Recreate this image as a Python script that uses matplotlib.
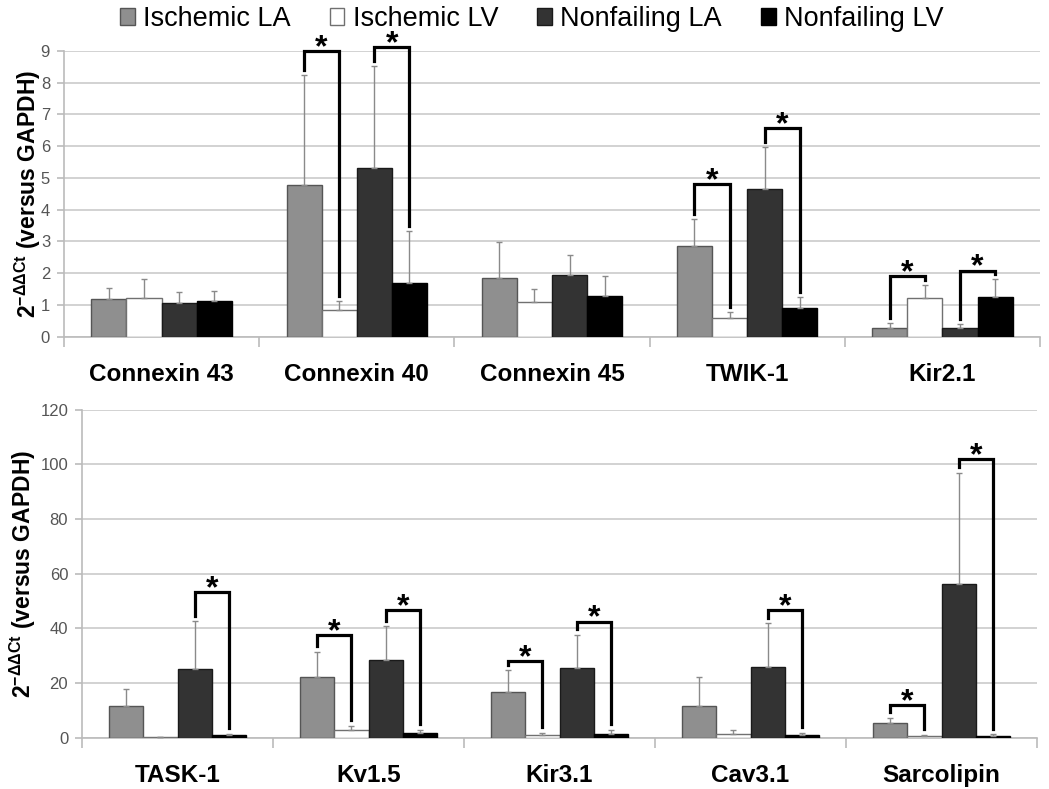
import numpy as np
import matplotlib
matplotlib.use("Agg")
import matplotlib.pyplot as plt
from matplotlib.patches import Patch

plt.rcParams['font.family'] = ['Liberation Sans', 'DejaVu Sans']
plt.rcParams['mathtext.fontset'] = 'custom'
plt.rcParams['mathtext.rm'] = 'Liberation Sans'
plt.rcParams['mathtext.bf'] = 'Liberation Sans:bold'

series = ['Ischemic LA', 'Ischemic LV', 'Nonfailing LA', 'Nonfailing LV']

# upper panel: gap junctions and K+ channels
genes_top = ['Connexin 43', 'Connexin 40', 'Connexin 45', 'TWIK-1', 'Kir2.1']
isch_la_top = [1.20, 4.78, 1.84, 2.87, 0.27]
isch_lv_top = [1.23, 0.85, 1.10, 0.60, 1.23]
nf_la_top = [1.07, 5.32, 1.94, 4.65, 0.26]
nf_lv_top = [1.12, 1.68, 1.29, 0.89, 1.24]
isch_la_top_sd = [0.32, 3.47, 1.13, 0.84, 0.17]
isch_lv_top_sd = [0.60, 0.28, 0.41, 0.18, 0.39]
nf_la_top_sd = [0.35, 3.20, 0.62, 1.32, 0.15]
nf_lv_top_sd = [0.33, 1.64, 0.62, 0.37, 0.57]
# significant pairs: (gene index, series a, series b, bracket height)
sig_top = [(1, 0, 1, 9.0), (1, 2, 3, 9.12), (3, 0, 1, 4.8),
           (3, 2, 3, 6.56), (4, 0, 1, 1.91), (4, 2, 3, 2.08)]

# lower panel
genes_bot = ['TASK-1', 'Kv1.5', 'Kir3.1', 'Cav3.1', 'Sarcolipin']
isch_la_bot = [11.5, 22.3, 16.8, 11.7, 5.4]
isch_lv_bot = [0.2, 2.9, 0.9, 1.5, 0.6]
nf_la_bot = [25.0, 28.5, 25.4, 26.0, 56.1]
nf_lv_bot = [0.9, 1.6, 1.3, 0.85, 0.6]
isch_la_bot_sd = [6.2, 9.2, 7.9, 10.6, 1.9]
isch_lv_bot_sd = [0.2, 1.5, 1.0, 1.3, 0.4]
nf_la_bot_sd = [17.6, 12.2, 12.2, 15.8, 40.9]
nf_lv_bot_sd = [0.6, 1.2, 1.7, 0.95, 0.7]
sig_bot = [(0, 2, 3, 53.2), (1, 0, 1, 37.6), (1, 2, 3, 46.7),
           (2, 0, 1, 28.0), (2, 2, 3, 42.4), (3, 2, 3, 46.7),
           (4, 0, 1, 12.0), (4, 2, 3, 101.8)]

colors = ['#8f8f8f', 'white', '#333333', 'black']
edges = ['#555555', '#707070', '#1a1a1a', 'black']
width = 0.18
offsets = (np.arange(4) - 1.5) * width


def draw_panel(ax, genes, means, sds, sigs, ymax, ystep, label_x):
    x = np.arange(len(genes))
    tops = []
    for k in range(4):
        ax.bar(x + offsets[k], means[k], width, color=colors[k],
               edgecolor=edges[k], linewidth=1.0, zorder=3)
        ax.errorbar(x + offsets[k], means[k],
                    yerr=[np.zeros(len(genes)), sds[k]], fmt='none',
                    ecolor='#8a8a8a', elinewidth=1.0, capsize=2.5,
                    capthick=1.0, zorder=4)
        tops.append(np.array(means[k]) + np.array(sds[k]))

    gap = 0.017 * ymax
    for g, a, b, h in sigs:
        xa, xb = g + offsets[a], g + offsets[b]
        ya, yb = tops[a][g] + gap, tops[b][g] + gap
        ax.plot([xa, xa, xb, xb], [ya, h, h, yb], color='black', lw=2.3,
                solid_joinstyle='miter', clip_on=False, zorder=5)
        ax.annotate('*', xy=((xa + xb) / 2, h), xytext=(0, -3.5),
                    textcoords='offset points', ha='center', va='baseline',
                    fontsize=23, fontweight='bold', annotation_clip=False)

    ax.set_xlim(-0.5, len(genes) - 0.5)
    ax.set_ylim(0, ymax)
    ax.set_yticks(np.arange(0, ymax + ystep / 2, ystep))
    ax.set_xticks(np.arange(-0.5, len(genes), 1.0))
    ax.set_xticklabels([])
    ax.set_xticks(x, minor=True)
    ax.set_xticklabels(genes, minor=True, fontsize=17.5, fontweight='bold')
    ax.tick_params(axis='x', which='minor', length=0, pad=19)
    ax.tick_params(axis='x', which='major', length=7, color='#bbbbbb',
                   width=1.2)
    ax.tick_params(axis='y', length=5, color='#bbbbbb', width=1.2,
                   labelsize=12, labelcolor='#555555', pad=5)
    ax.grid(axis='y', color='#cfcfcf', lw=1.3, zorder=0)
    ax.set_axisbelow(True)
    for s in ['top', 'right']:
        ax.spines[s].set_visible(False)
    for s in ['left', 'bottom']:
        ax.spines[s].set_color('#bbbbbb')
        ax.spines[s].set_linewidth(1.2)
    ax.set_ylabel(r'$\mathbf{2}^{\mathbf{-\Delta\Delta Ct}}$ (versus GAPDH)',
                  fontsize=16.5, fontweight='bold')
    ax.yaxis.set_label_coords(label_x, 0.5)


fig = plt.figure(figsize=(10.49, 7.89), dpi=100)
ax1 = fig.add_axes([0.0610, 0.5733, 0.9304, 0.3621])
ax2 = fig.add_axes([0.0782, 0.0650, 0.9104, 0.4157])

draw_panel(ax1, genes_top,
           [isch_la_top, isch_lv_top, nf_la_top, nf_lv_top],
           [isch_la_top_sd, isch_lv_top_sd, nf_la_top_sd, nf_lv_top_sd],
           sig_top, 9, 1, -0.022)
draw_panel(ax2, genes_bot,
           [isch_la_bot, isch_lv_bot, nf_la_bot, nf_lv_bot],
           [isch_la_bot_sd, isch_lv_bot_sd, nf_la_bot_sd, nf_lv_bot_sd],
           sig_bot, 120, 20, -0.046)

handles = [Patch(facecolor=c, edgecolor=e, linewidth=1.0)
           for c, e in zip(colors, edges)]
fig.legend(handles, series, loc='center', bbox_to_anchor=(0.507, 0.976),
           ncol=4, frameon=False, fontsize=19.5, handlelength=0.55,
           handleheight=0.55, handletextpad=0.3, columnspacing=1.45)

fig.savefig('out.png', dpi=100)
